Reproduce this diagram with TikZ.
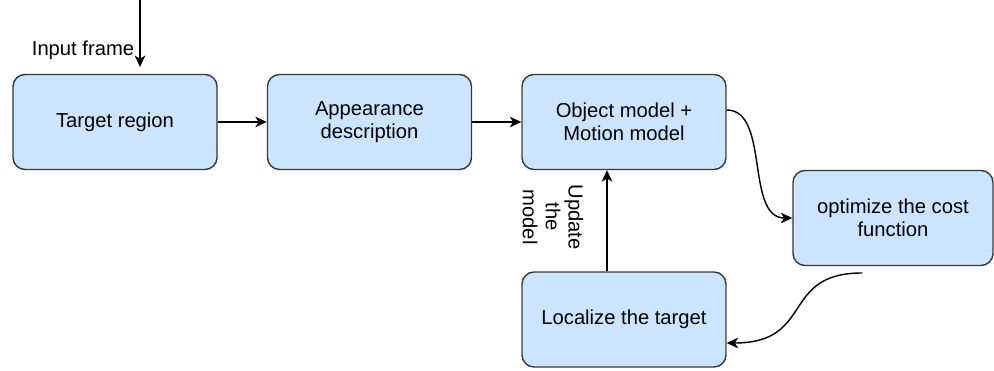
\documentclass[tikz,border=0pt]{standalone}
\usepackage{fontspec}
\setmainfont{Liberation Sans}
\usetikzlibrary{arrows.meta}
\usetikzlibrary{calc}
\definecolor{boxfill}{HTML}{CCE5FF}
\definecolor{boxline}{HTML}{36393D}
\tikzstyle{every node}=[font=\fontsize{11.5}{13}\selectfont]
\tikzstyle{block}=[draw=boxline,fill=boxfill,line width=0.8pt,rounded corners=0.24cm,
    minimum width=4.08cm,minimum height=1.9cm,align=center,inner sep=2pt]
\tikzstyle{flow}=[line width=0.8pt,-{Stealth[length=6.5pt,width=6pt,inset=1.8pt]}]

\begin{document}
\begin{tikzpicture}
    \useasboundingbox (0,0) rectangle (19.88,-7.42);

    % Blocks of the tracking loop
    \node[block] (target) at (2.30,-2.44) {Target region};
    \node[block] (appear) at (7.39,-2.44) {Appearance\\description};
    \node[block] (object) at (12.48,-2.44) {Object model +\\Motion model};
    \node[block,minimum width=4.0cm] (optim) at (17.86,-4.36) {optimize the cost\\function};
    \node[block] (local) at (12.48,-6.39) {Localize the target};

    % Input frame entering from the top
    \coordinate (inTop) at (2.80,0);
    \coordinate (inEnd) at (2.80,-1.34);
    \draw[flow] (inTop) -- (inEnd);
    \node (inLabel) at (1.66,-1.0) {Input frame};

    % Straight connections
    \draw[flow] (target) -- (appear);
    \draw[flow] (appear) -- (object);
    \draw[flow] ($(local.north)+(-0.34,0)$) -- ($(object.south)+(-0.34,0)$);
    \node[rotate=-90,align=center] (upd) at (11.06,-4.34) {Update\\the\\model};

    % Curved connections
    \draw[flow] ($(object.east)+(0,0.24)$) .. controls (15.4,-2.20) and (14.9,-4.36) .. (optim.west);
    \coordinate (optOut) at (17.24,-5.46);
    \draw[flow] (optOut) .. controls (15.6,-5.46) and (16.3,-6.86) .. ($(local.east)+(0,-0.47)$);
\end{tikzpicture}
\end{document}
